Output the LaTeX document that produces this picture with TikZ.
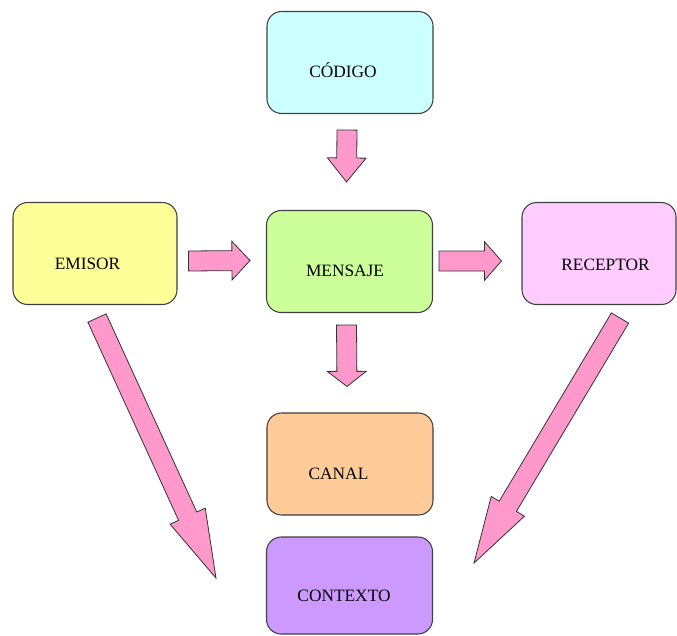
\documentclass[tikz,border=0pt]{standalone}
\usepackage{fontspec}
\setmainfont{Liberation Serif}
\usetikzlibrary{calc}

\definecolor{codigoC}{HTML}{CCFFFF}
\definecolor{emisorC}{HTML}{FFFF99}
\definecolor{mensajeC}{HTML}{CCFF99}
\definecolor{receptorC}{HTML}{FFCCFF}
\definecolor{canalC}{HTML}{FFCC99}
\definecolor{contextoC}{HTML}{CC99FF}
\definecolor{flechaC}{HTML}{FF99CC}

\tikzset{
  box/.style={draw=black!75, line width=0.8pt, rounded corners=11pt,
    minimum width=124.5pt, minimum height=76.5pt, inner sep=0pt},
  lbl/.style={font=\fontsize{13}{15}\selectfont, inner sep=0pt, anchor=base},
  barrow/.style={draw=black!80, fill=flechaC, line width=0.6pt, line join=miter}
}

% block arrow: [head length]{from}{to}
\newcommand{\blockarrow}[3][13.5pt]{%
  \coordinate (hb) at ($(#3)!#1!(#2)$);
  \draw[barrow] ($(#2)!7.5pt!90:(#3)$) -- ($(hb)!7.5pt!90:(#3)$)
    -- ($(hb)!14.5pt!90:(#3)$) -- (#3) -- ($(hb)!14.5pt!-90:(#3)$)
    -- ($(hb)!7.5pt!-90:(#3)$) -- ($(#2)!7.5pt!-90:(#3)$) -- cycle;
}

\begin{document}
\begin{tikzpicture}[x=0.75pt, y=-0.75pt]
  \useasboundingbox (0,0) rectangle (677,635);
  \fill[white] (0,0) rectangle (677,635);

  % Boxes
  \node[box, fill=codigoC] (codigo) at (350,62.5) {};
  \node[box, fill=emisorC, minimum width=123pt] (emisor) at (95,253.5) {};
  \node[box, fill=mensajeC] (mensaje) at (349.5,261.5) {};
  \node[box, fill=receptorC, minimum width=115.5pt] (receptor) at (599,253.5) {};
  \node[box, fill=canalC] (canal) at (350,464) {};
  \node[box, fill=contextoC, minimum height=72.75pt] (contexto) at (349.5,585.5) {};

  % Labels
  \node[lbl] (codigo-t) at ($(codigo)+(-7,14.5)$) {CÓDIGO};
  \node[lbl] (emisor-t) at ($(emisor)+(-7.5,16)$) {EMISOR};
  \node[lbl] (mensaje-t) at ($(mensaje)+(-4.5,14.5)$) {MENSAJE};
  \node[lbl] (receptor-t) at ($(receptor)+(6.5,16.5)$) {RECEPTOR};
  \node[lbl] (canal-t) at ($(canal)+(-11.5,15.5)$) {CANAL};
  \node[lbl] (contexto-t) at ($(contexto)+(-5.5,15.5)$) {CONTEXTO};

  % Arrow ends
  \coordinate (c2m-a) at ($(codigo.south)+(-3,16)$);
  \coordinate (c2m-b) at ($(mensaje.north)+(-3,-28)$);
  \coordinate (m2c-a) at ($(mensaje.south)+(-3,12)$);
  \coordinate (m2c-b) at ($(canal.north)+(-3,-26)$);
  \coordinate (e2m-a) at ($(emisor.east)+(11,7.5)$);
  \coordinate (e2m-b) at ($(mensaje.west)+(-16,-1)$);
  \coordinate (m2r-a) at ($(mensaje.east)+(6,-0.5)$);
  \coordinate (m2r-b) at ($(receptor.west)+(-20,7.5)$);
  \coordinate (e2x-a) at ($(emisor.south)+(2,13)$);
  \coordinate (e2x-b) at ($(contexto.west)+(-50,-7.5)$);
  \coordinate (r2x-a) at ($(receptor.south)+(21,13)$);
  \coordinate (r2x-b) at ($(contexto.east)+(41,-22.5)$);

  % Arrows
  \blockarrow[18pt]{c2m-a}{c2m-b}
  \blockarrow[11.25pt]{m2c-a}{m2c-b}
  \blockarrow[13.5pt]{e2m-a}{e2m-b}
  \blockarrow[12.75pt]{m2r-a}{m2r-b}
  \blockarrow[51pt]{e2x-a}{e2x-b}
  \blockarrow[49.5pt]{r2x-a}{r2x-b}

\end{tikzpicture}
\end{document}
